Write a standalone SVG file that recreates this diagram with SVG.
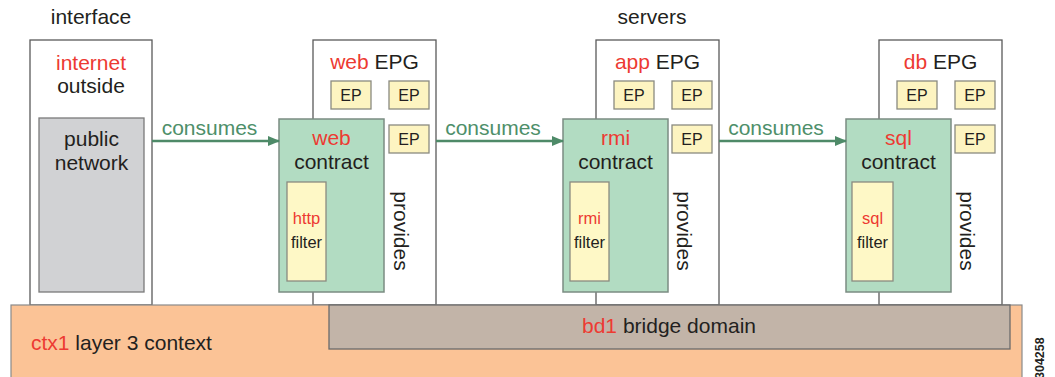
<svg xmlns="http://www.w3.org/2000/svg" width="1055" height="377" viewBox="0 0 1055 377">
<style>
text{font-family:"Liberation Sans",Arial,sans-serif;fill:#231f20}
.r{fill:#ed3a32}
.t20{font-size:21px}
.c{text-anchor:middle}
.box{fill:#fff;stroke:#5a5a5a;stroke-width:1.3}
.con{fill:#b2dcc2;stroke:#7b8c82;stroke-width:1.5}
.fil{fill:#fef8c6;stroke:#8a8a80;stroke-width:1.3}
.ep{fill:#fdf4c1;stroke:#8a8a80;stroke-width:1.3}
.ept{font-size:16px;text-anchor:middle}
.ft{font-size:16.5px;text-anchor:middle}
.arr{stroke:#4e8a68;stroke-width:2.5;fill:none}
.gt{fill:#4e8f6a;font-size:21px;text-anchor:middle}
</style>
<defs>
<marker id="ah" markerWidth="12" markerHeight="10" refX="11" refY="5" orient="auto" markerUnits="userSpaceOnUse">
<path d="M0,0 L12,5 L0,10 Z" fill="#4e8a68"/>
</marker>
</defs>
<rect width="1055" height="377" fill="#fff"/>
<text class="t20 c" x="91" y="24">interface</text>
<text class="t20 c" x="652" y="24">servers</text>

<g id="interface">
<rect class="box" x="30" y="40" width="122" height="265"/>
<text class="t20 c" x="91" y="70"><tspan class="r">internet</tspan></text>
<text class="t20 c" x="91" y="93">outside</text>
<rect x="39" y="118" width="105" height="174" fill="#d1d2d4" stroke="#7a7a7a" stroke-width="1.3"/>
<text class="t20 c" x="91.5" y="146">public</text>
<text class="t20 c" x="91.5" y="170">network</text>
</g>

<g id="web-epg">
<rect class="box" x="313" y="40" width="123" height="265"/>
<text class="t20 c" x="374.5" y="69"><tspan class="r">web</tspan> EPG</text>
<rect class="ep" x="331" y="81" width="40" height="28"/><text class="ept" x="351" y="101">EP</text>
<rect class="ep" x="389" y="81" width="40" height="28"/><text class="ept" x="409" y="101">EP</text>
<rect class="ep" x="389" y="125" width="40" height="28"/><text class="ept" x="409" y="145">EP</text>
<rect class="con" x="279" y="119" width="105" height="173"/>
<text class="t20 c" x="331.5" y="145"><tspan class="r">web</tspan></text>
<text class="t20 c" x="331.5" y="169">contract</text>
<rect class="fil" x="287" y="182" width="39" height="99"/>
<text class="ft" x="306.5" y="224"><tspan class="r">http</tspan></text>
<text class="ft" x="306.5" y="248">filter</text>
<text class="t20 c" transform="translate(394,231) rotate(90)">provides</text>
</g>

<g id="app-epg">
<rect class="box" x="596" y="40" width="123" height="265"/>
<text class="t20 c" x="657.5" y="69"><tspan class="r">app</tspan> EPG</text>
<rect class="ep" x="614" y="81" width="40" height="28"/><text class="ept" x="634" y="101">EP</text>
<rect class="ep" x="672" y="81" width="40" height="28"/><text class="ept" x="692" y="101">EP</text>
<rect class="ep" x="672" y="125" width="40" height="28"/><text class="ept" x="692" y="145">EP</text>
<rect class="con" x="563" y="119" width="105" height="173"/>
<text class="t20 c" x="615.5" y="145"><tspan class="r">rmi</tspan></text>
<text class="t20 c" x="615.5" y="169">contract</text>
<rect class="fil" x="570" y="182" width="39" height="99"/>
<text class="ft" x="589.5" y="224"><tspan class="r">rmi</tspan></text>
<text class="ft" x="589.5" y="248">filter</text>
<text class="t20 c" transform="translate(677,231) rotate(90)">provides</text>
</g>

<g id="db-epg">
<rect class="box" x="879" y="40" width="123" height="265"/>
<text class="t20 c" x="940.5" y="69"><tspan class="r">db</tspan> EPG</text>
<rect class="ep" x="897" y="81" width="40" height="28"/><text class="ept" x="917" y="101">EP</text>
<rect class="ep" x="955" y="81" width="40" height="28"/><text class="ept" x="975" y="101">EP</text>
<rect class="ep" x="955" y="125" width="40" height="28"/><text class="ept" x="975" y="145">EP</text>
<rect class="con" x="846" y="119" width="105" height="173"/>
<text class="t20 c" x="898.5" y="145"><tspan class="r">sql</tspan></text>
<text class="t20 c" x="898.5" y="169">contract</text>
<rect class="fil" x="852" y="182" width="41" height="99"/>
<text class="ft" x="872.5" y="224"><tspan class="r">sql</tspan></text>
<text class="ft" x="872.5" y="248">filter</text>
<text class="t20 c" transform="translate(960,231) rotate(90)">provides</text>
</g>

<g id="ctx1">
<rect x="11" y="305" width="1011" height="74" fill="#fbc396" stroke="#8a8a8a" stroke-width="1.2"/>
<text class="t20" x="31" y="350"><tspan class="r">ctx1</tspan> layer 3 context</text>
</g>
<g id="bd1">
<rect x="329" y="305" width="681" height="44" fill="#c2b4a8" stroke="#6a6a6a" stroke-width="1.3"/>
<text class="t20 c" x="669" y="333"><tspan class="r">bd1</tspan> bridge domain</text>
</g>

<g id="connectors">
<line class="arr" x1="152" y1="141" x2="279" y2="141" marker-end="url(#ah)"/>
<text class="gt" x="209.5" y="135">consumes</text>
<line class="arr" x1="436" y1="141" x2="563" y2="141" marker-end="url(#ah)"/>
<text class="gt" x="493" y="135">consumes</text>
<line class="arr" x1="719" y1="141" x2="846" y2="141" marker-end="url(#ah)"/>
<text class="gt" x="776" y="135">consumes</text>
</g>

<text x="1044" y="379" transform="rotate(-90 1044 379)" font-size="12.5" font-weight="bold" fill="#333">304258</text>
</svg>
